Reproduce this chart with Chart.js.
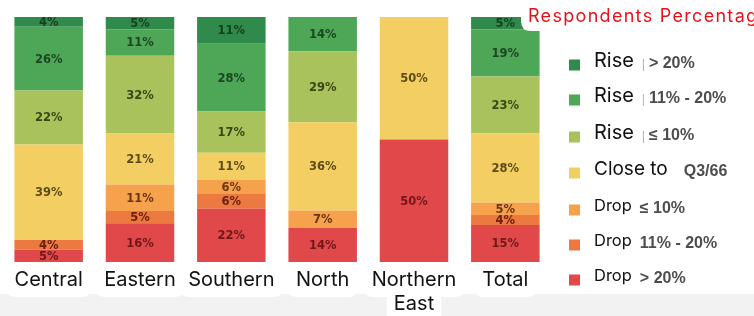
<!DOCTYPE html>
<html><head><meta charset="utf-8">
<script src="https://cdn.jsdelivr.net/npm/chart.js@4/dist/chart.umd.min.js"></script>
<style>html,body{margin:0;padding:0;background:#fff}#wrap{width:754px;height:316px;position:relative}</style>
</head><body><div id="wrap"><canvas id="c" width="754" height="316"></canvas></div>
<script>
// ---- data (percent of respondents) ----
const categories = ['Central', 'Eastern', 'Southern', 'North', ['Northern', 'East'], 'Total'];
const riseGt20   = [4, 5, 11, 0, 0, 5];
const rise11to20 = [26, 11, 28, 14, 0, 19];
const riseLe10   = [22, 32, 17, 29, 0, 23];
const closeTo    = [39, 21, 11, 36, 50, 28];
const dropLe10   = [0, 11, 6, 7, 0, 5];
const drop11to20 = [4, 5, 6, 0, 0, 4];
const dropGt20   = [5, 16, 22, 14, 50, 15];
const legendMain = ['Rise', 'Rise', 'Rise', 'Close to', 'Drop', 'Drop', 'Drop'];
const legendSub  = ['> 20%', '11% - 20%', '≤ 10%', 'Q3/66', '≤ 10%', '11% - 20%', '> 20%'];
const titleText = 'Respondents Percentage';

// series listed top-of-legend first
const series = [riseGt20, rise11to20, riseLe10, closeTo, dropLe10, drop11to20, dropGt20];
const colors = ['#2f8a4b', '#4ea657', '#a9c25b', '#f3cf63', '#f6a14c', '#ec7940', '#e0484a'];
const labelColors = ['#173f1f', '#1c4622', '#3b4617', '#5c4c16', '#6a3612', '#6a2110', '#6e1818'];

const rowSum = categories.map((_, i) => series.reduce((s, arr) => s + arr[i], 0));

// datasets: bottom of the stack first
const datasets = series.map((arr, k) => ({
  label: legendMain[k] + ' ' + legendSub[k],
  data: arr.map((v, i) => v / rowSum[i] * 100),
  raw: arr,
  backgroundColor: colors[k],
  labelColor: labelColors[k],
  borderWidth: 0,
  barPercentage: 0.75,
  categoryPercentage: 1.0,
  stack: 's'
})).reverse();

function rr(ctx, x, y, w, h, r) {
  ctx.beginPath();
  ctx.moveTo(x + r, y);
  ctx.lineTo(x + w - r, y);
  ctx.quadraticCurveTo(x + w, y, x + w, y + r);
  ctx.lineTo(x + w, y + h - r);
  ctx.quadraticCurveTo(x + w, y + h, x + w - r, y + h);
  ctx.lineTo(x + r, y + h);
  ctx.quadraticCurveTo(x, y + h, x, y + h - r);
  ctx.lineTo(x, y + r);
  ctx.quadraticCurveTo(x, y, x + r, y);
  ctx.closePath();
}

const decor = {
  id: 'decor',
  beforeDraw(chart) {
    const ctx = chart.ctx;
    const xs = chart.scales.x;
    ctx.save();
    ctx.fillStyle = '#f2f2f2';
    ctx.fillRect(0, 294, chart.width, chart.height - 294);
    ctx.font = '20px Inter';
    ctx.fillStyle = '#ffffff';
    categories.forEach((c, i) => {
      const lines = Array.isArray(c) ? c : [c];
      const px = xs.getPixelForTick(i);
      const w = Math.max(...lines.map(l => ctx.measureText(l).width)) + 16;
      rr(ctx, px - w / 2, 263, w, 34, 9);
      ctx.fill();
      if (lines.length > 1) {
        const w2 = ctx.measureText(lines[1]).width + 14;
        rr(ctx, px - w2 / 2, 290, w2, 40, 9);
        ctx.fill();
      }
    });
    ctx.restore();
  },
  afterDatasetsDraw(chart) {
    const ctx = chart.ctx;
    ctx.save();
    ctx.font = 'bold 11.5px "DejaVu Sans"';
    ctx.textAlign = 'center';
    ctx.textBaseline = 'middle';
    chart.data.datasets.forEach((ds, di) => {
      const meta = chart.getDatasetMeta(di);
      meta.data.forEach((bar, i) => {
        const v = ds.raw[i];
        if (!v) return;
        ctx.fillStyle = ds.labelColor;
        ctx.fillText(v + '%', bar.x, (bar.y + bar.base) / 2 + 1);
      });
    });
    ctx.restore();
  },
  afterDraw(chart) {
    const ctx = chart.ctx;
    ctx.save();
    // title box
    ctx.fillStyle = '#ffffff';
    rr(ctx, 521, -12, 250, 43, 10);
    ctx.fill();
    ctx.fillStyle = '#e8121c';
    ctx.font = '18px Inter';
    ctx.letterSpacing = '1.3px';
    ctx.textBaseline = 'middle';
    ctx.textAlign = 'left';
    ctx.fillText(titleText, 528, 17);
    ctx.letterSpacing = '0px';
    // legend
    const ys = [65, 100, 137, 173, 210, 245, 280];
    const mainSize = [20, 20, 20, 19, 16.5, 16.5, 16.5];
    series.forEach((_, k) => {
      const y = ys[k];
      ctx.fillStyle = colors[k];
      ctx.fillRect(569, y - 5.5, 11, 11);
      ctx.fillStyle = '#111111';
      ctx.font = mainSize[k] + 'px Inter';
      ctx.fillText(legendMain[k], 594, y - 4);
      const mw = ctx.measureText(legendMain[k]).width;
      let sx = 594 + mw + 8;
      if (k < 3) {
        ctx.fillStyle = '#b5b5b5';
        ctx.fillRect(sx + 1, y - 6, 1, 12);
        sx += 7;
      }
      if (k === 3) sx += 8;
      ctx.fillStyle = '#4d4d4d';
      ctx.font = 'bold 16px "Liberation Sans"';
      ctx.fillText(legendSub[k], sx, y - 1);
    });
    ctx.restore();
  }
};

new Chart(document.getElementById('c'), {
  type: 'bar',
  data: { labels: categories, datasets },
  options: {
    responsive: false,
    animation: false,
    devicePixelRatio: 1,
    layout: { padding: { top: 17, left: 3, right: 203, bottom: 0 } },
    plugins: { legend: { display: false }, tooltip: { enabled: false }, title: { display: false } },
    scales: {
      x: {
        stacked: true,
        grid: { display: false, drawTicks: false },
        border: { display: false },
        ticks: { color: '#111111', font: { family: 'Inter', size: 20, lineHeight: 1.2 }, padding: 6, maxRotation: 0, autoSkip: false },
        afterFit(scale) { scale.height = 54; }
      },
      y: {
        stacked: true,
        display: false,
        min: 0,
        max: 100
      }
    }
  },
  plugins: [decor]
});
</script>
</body></html>
